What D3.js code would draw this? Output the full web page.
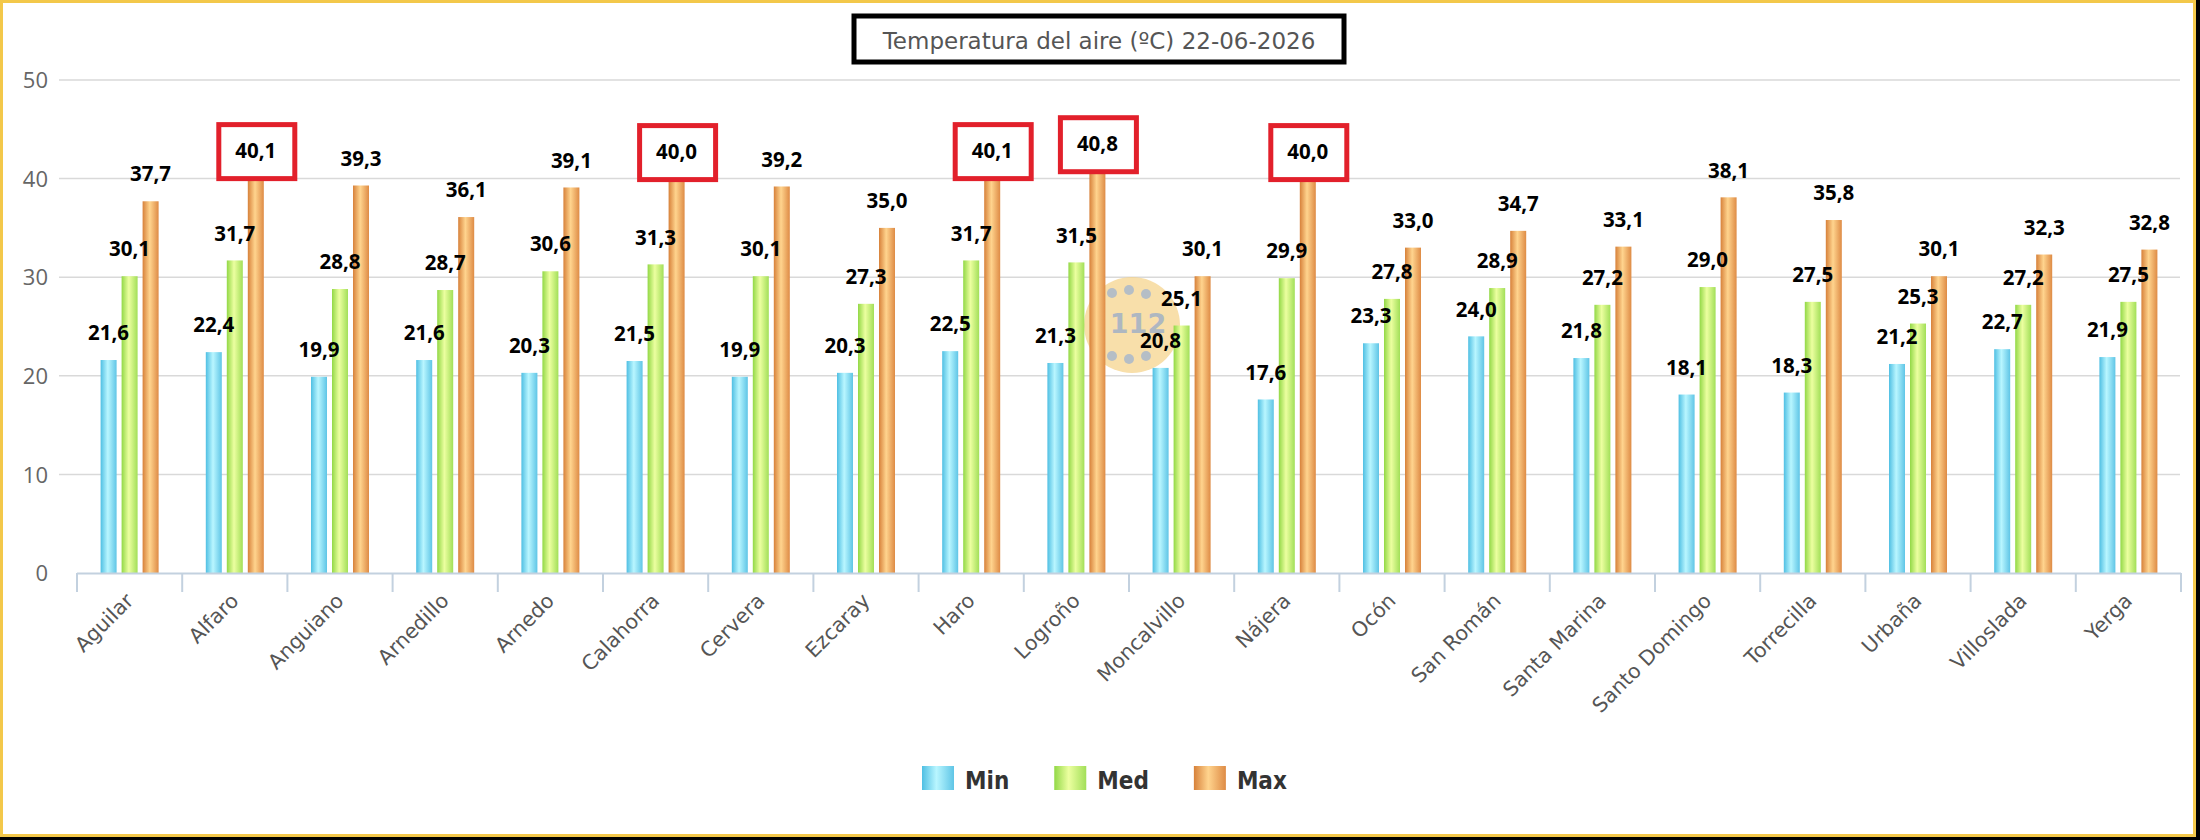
<!DOCTYPE html>
<html>
<head>
<meta charset="utf-8">
<script src="https://cdn.jsdelivr.net/npm/d3@7"></script>
<style>
  body { margin: 0; background: #000; }
  svg { display: block; }
</style>
</head>
<body>
<svg id="chart"></svg>
<script>
const width = 2200;
const height = 840;

// data
const stations = ["Aguilar", "Alfaro", "Anguiano", "Arnedillo", "Arnedo", "Calahorra", "Cervera", "Ezcaray",
  "Haro", "Logroño", "Moncalvillo", "Nájera", "Ocón", "San Román", "Santa Marina", "Santo Domingo",
  "Torrecilla", "Urbaña", "Villoslada", "Yerga"];
const minTemp = [21.6, 22.4, 19.9, 21.6, 20.3, 21.5, 19.9, 20.3, 22.5, 21.3, 20.8, 17.6, 23.3, 24.0, 21.8, 18.1, 18.3, 21.2, 22.7, 21.9];
const medTemp = [30.1, 31.7, 28.8, 28.7, 30.6, 31.3, 30.1, 27.3, 31.7, 31.5, 25.1, 29.9, 27.8, 28.9, 27.2, 29.0, 27.5, 25.3, 27.2, 27.5];
const maxTemp = [37.7, 40.1, 39.3, 36.1, 39.1, 40.0, 39.2, 35.0, 40.1, 40.8, 30.1, 40.0, 33.0, 34.7, 33.1, 38.1, 35.8, 30.1, 32.3, 32.8];
const seriesNames = ["Min", "Med", "Max"];
const yTicks = [0, 10, 20, 30, 40, 50];
const titleText = "Temperatura del aire (ºC) 22-06-2026";

const series = [
  {name: "Min", values: minTemp, c0: "#4fbfe3", c1: "#b9f6ff", c2: "#5fc5e6"},
  {name: "Med", values: medTemp, c0: "#92d846", c1: "#ecffa0", c2: "#a2df58"},
  {name: "Max", values: maxTemp, c0: "#d7813a", c1: "#ffd48e", c2: "#de8b45"}
];

let svg = d3.select("#chart")
  .attr("width", width)
  .attr("height", height);

// frame
svg.append("rect")
  .attr("x", 1.5).attr("y", 1.5)
  .attr("width", 2193).attr("height", 834)
  .attr("fill", "#fff")
  .attr("stroke", "#f3c84a")
  .attr("stroke-width", 3);

// gradients for the cylinder look
let defs = svg.append("defs");
series.forEach(s => {
  let g = defs.append("linearGradient")
    .attr("id", "grad-" + s.name)
    .attr("x1", "0%").attr("x2", "100%")
    .attr("y1", "0%").attr("y2", "0%");
  g.append("stop").attr("offset", "0%").attr("stop-color", s.c0);
  g.append("stop").attr("offset", "45%").attr("stop-color", s.c1);
  g.append("stop").attr("offset", "100%").attr("stop-color", s.c2);
});

// scales
let xScale = d3.scaleBand()
  .domain(stations)
  .range([77, 2181]);

let subScale = d3.scalePoint()
  .domain(seriesNames)
  .range([-21, 21]);

let yScale = d3.scaleLinear()
  .domain([0, 50])
  .range([573, 80]);

const barWidth = 16;

// grid lines
svg.append("g").attr("class", "grid")
  .selectAll("line")
  .data(yTicks.filter(d => d > 0))
  .join("line")
  .attr("x1", 59).attr("x2", 2180)
  .attr("y1", d => yScale(d)).attr("y2", d => yScale(d))
  .attr("stroke", "#d9d9d9")
  .attr("stroke-width", 1.5);

// y axis
let yAxis = d3.axisLeft(yScale).tickValues(yTicks).tickSize(0).tickPadding(0);
svg.append("g")
  .attr("class", "y-axis")
  .attr("transform", "translate(48,0)")
  .call(yAxis)
  .call(g => g.select(".domain").remove())
  .selectAll("text")
  .attr("font-family", "Open Sans")
  .attr("font-size", 22)
  .attr("fill", "#666")
  .attr("dy", "0.35em");

// 112 logo in the background
let logo = svg.append("g").attr("opacity", 0.7);
logo.append("circle").attr("cx", 1132).attr("cy", 325).attr("r", 48).attr("fill", "#f6d287");
[[1112, 293], [1129, 290], [1146, 294], [1112, 356], [1129, 359], [1146, 356], [1100, 300], [1100, 350]]
  .forEach(p => logo.append("circle").attr("cx", p[0]).attr("cy", p[1]).attr("r", 5).attr("fill", "#97a3ae"));
logo.append("text").attr("x", 1138).attr("y", 333).attr("text-anchor", "middle")
  .attr("font-family", "DejaVu Sans").attr("font-weight", "bold").attr("font-size", 27)
  .attr("fill", "#8d9aa8").text("112");

// bars
let groups = svg.append("g").attr("class", "bars")
  .selectAll("g")
  .data(series)
  .join("g")
  .attr("fill", d => "url(#grad-" + d.name + ")");

groups.selectAll("rect")
  .data(s => s.values.map((v, i) => ({name: s.name, station: stations[i], value: v})))
  .join("rect")
  .attr("x", d => xScale(d.station) + xScale.bandwidth() / 2 + subScale(d.name) - barWidth / 2)
  .attr("y", d => yScale(d.value))
  .attr("width", barWidth)
  .attr("height", d => yScale(0) - yScale(d.value));

// x axis line and ticks
let xAxisG = svg.append("g").attr("class", "x-axis");
xAxisG.append("line")
  .attr("x1", 77).attr("x2", 2181)
  .attr("y1", 573.5).attr("y2", 573.5)
  .attr("stroke", "#c3d1df").attr("stroke-width", 2);
xAxisG.selectAll("line.tick")
  .data(stations.concat(["end"]))
  .join("line")
  .attr("class", "tick")
  .attr("x1", (d, i) => 77 + i * xScale.step())
  .attr("x2", (d, i) => 77 + i * xScale.step())
  .attr("y1", 573).attr("y2", 592)
  .attr("stroke", "#c3d1df").attr("stroke-width", 2);

xAxisG.selectAll("text")
  .data(stations)
  .join("text")
  .attr("text-anchor", "end")
  .attr("transform", d => "translate(" + (xScale(d) + xScale.bandwidth() / 2 + 5) + ",602) rotate(-45)")
  .attr("font-family", "DejaVu Sans")
  .attr("font-size", 20.5)
  .attr("fill", "#555")
  .text(d => d);

// data labels
let fmt = v => v.toFixed(1).replace(".", ",");
let labels = svg.append("g").attr("class", "labels");
series.forEach(s => {
  s.values.forEach((v, i) => {
    let cx = xScale(stations[i]) + xScale.bandwidth() / 2 + subScale(s.name);
    let cy = yScale(v) - 27;
    if (v >= 40) {
      labels.append("rect")
        .attr("x", cx - 37).attr("y", cy - 26)
        .attr("width", 76).attr("height", 54)
        .attr("fill", "#fff")
        .attr("stroke", "#e2202b")
        .attr("stroke-width", 5);
    }
    labels.append("text")
      .attr("x", cx).attr("y", cy)
      .attr("dy", "0.35em")
      .attr("text-anchor", "middle")
      .attr("font-family", "Open Sans")
      .attr("font-weight", 700)
      .attr("font-size", 20.5)
      .attr("fill", "#000")
      .text(fmt(v));
  });
});

// title
let title = svg.append("g").attr("class", "title");
title.append("rect")
  .attr("x", 854).attr("y", 16)
  .attr("width", 490).attr("height", 46)
  .attr("fill", "#fff")
  .attr("stroke", "#000")
  .attr("stroke-width", 5);
title.append("text")
  .attr("x", 1099).attr("y", 49)
  .attr("text-anchor", "middle")
  .attr("font-family", "DejaVu Sans")
  .attr("font-size", 23)
  .attr("fill", "#555")
  .text(titleText);

// legend
let legend = svg.append("g").attr("class", "legend");
let lx = 922;
series.forEach(s => {
  legend.append("rect")
    .attr("x", lx).attr("y", 766)
    .attr("width", 32).attr("height", 24)
    .attr("fill", "url(#grad-" + s.name + ")");
  let t = legend.append("text")
    .attr("x", lx + 43).attr("y", 789)
    .attr("font-family", "DejaVu Sans Condensed, DejaVu Sans")
    .attr("font-weight", "bold")
    .attr("font-size", 24)
    .attr("fill", "#333")
    .text(s.name);
  lx += 43 + t.node().getComputedTextLength() + 45;
});
</script>
</body>
</html>
